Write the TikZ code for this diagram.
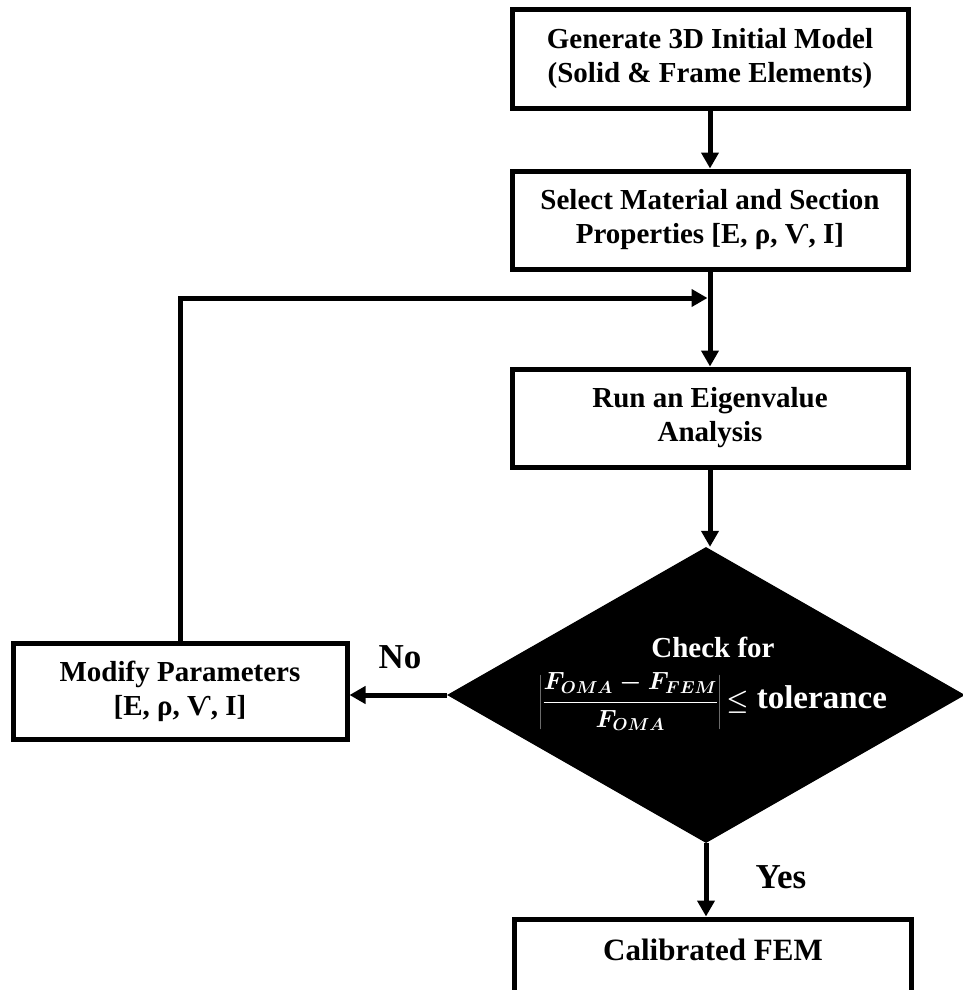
\documentclass[tikz,border=0pt]{standalone}
\usepackage{fontspec}
\setmainfont{Liberation Serif}
\usetikzlibrary{arrows.meta,shapes.geometric}
\begin{document}
\begin{tikzpicture}[x=1pt,y=-1pt,
  box/.style={draw, line width=5pt, fill=white, minimum width=396pt, minimum height=98pt,
    inner sep=0pt, align=center, font=\fontsize{29}{34}\selectfont\bfseries},
  conn/.style={line width=5pt, -{Triangle[length=16pt,width=17pt]}},
  lbl/.style={font=\fontsize{35}{40}\selectfont\bfseries, anchor=base, inner sep=0pt},
  decision/.style={diamond, fill=black, draw=none, minimum width=518pt, minimum height=296pt, inner sep=0pt}]
\clip (0,0) rectangle (963,990);
\node[box] (gen) at (710,59) {Generate 3D Initial Model\\(Solid \& Frame Elements)};
\node[box] (sel) at (710,220) {Select Material and Section\\Properties [E, ρ, Ѵ, I]};
\node[box] (run) at (710,418) {Run an Eigenvalue\\Analysis};
\node[decision] (chk) at (706,695) {};
\node[align=center, text=white, inner sep=0pt, font=\fontsize{29}{34}\selectfont\bfseries] (chkt) at (713,684)
  {Check for\\[14pt] {\fontsize{23}{26}\selectfont\boldmath$\displaystyle\left|\frac{F_{OMA}-F_{FEM}}{F_{OMA}}\right|$}\,{\fontsize{33}{38}\selectfont\boldmath$\le$ tolerance}};
\node[box, minimum width=334pt, minimum height=96pt] (mod) at (180,691) {Modify Parameters\\{}[E, ρ, Ѵ, I]};
\node[box, minimum width=397pt, font=\fontsize{31}{36}\selectfont\bfseries] (cal) at (713,968) {Calibrated FEM\\\mbox{}};
\node[lbl] (no) at (400,668) {No};
\node[lbl] (yes) at (781,888) {Yes};
\coordinate (j) at (710,298);
\draw[conn] (gen.south) -- (sel.north);
\draw[conn] (sel.south) -- (run.north);
\draw[conn] (run.south) -- (run.south |- chk.north);
\draw[conn] (chk.west) -- (chk.west -| mod.east);
\draw[conn] (chk.south) -- (chk.south |- cal.north);
\draw[conn, shorten >=2.5pt] (mod.north) |- (j);
\end{tikzpicture}
\end{document}
